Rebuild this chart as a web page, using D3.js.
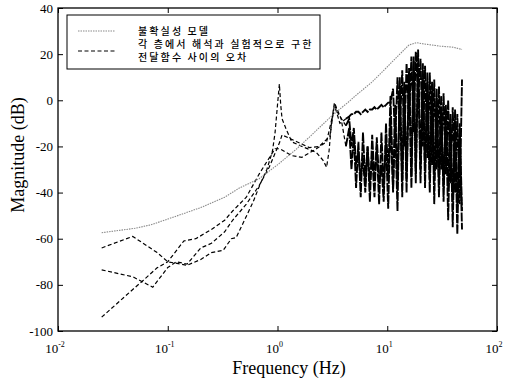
<!DOCTYPE html>
<html>
<head>
<meta charset="utf-8">
<style>
body { margin: 0; background: #fff; }
svg text { font-family: "Liberation Serif", "Times New Roman", serif; fill: #000; }
.tick line { stroke: #000; }
.domain { display: none; }
</style>
</head>
<body>
<svg id="chart" width="518" height="379"></svg>
<script src="https://d3js.org/d3.v7.min.js"></script>
<script>
// uncertainty model (gray dotted)
var modelCurve = [[0.025,-57.4],[0.05,-55.5],[0.07,-54],[0.1,-51.5],[0.2,-46.5],[0.33,-42],[0.45,-38],
  [0.68,-34],[1,-28],[1.5,-21],[2,-15.5],[3,-7.5],[3.66,-4],[4.5,-0.5],[5,1.5],[7.3,8],[10,14.5],
  [13,20],[15.8,24],[18.5,25],[21,24.5],[30,23.5],[40,23],[48,22]];

// error curves, low frequency part
var err1Low = [[0.025,-64],[0.048,-59],[0.08,-66],[0.1,-70],[0.15,-71.5],[0.2,-69],[0.25,-66],[0.32,-65],
  [0.38,-60],[0.42,-59.5],[0.5,-52],[0.6,-44],[0.7,-36],[0.8,-30],[0.9,-22],[0.95,-14],[1.0,-2],[1.04,7],
  [1.07,-2],[1.1,-8],[1.2,-12.6],[1.35,-18],[1.67,-20],[2.26,-22.6],[2.6,-26],[2.8,-29],[2.95,-22],
  [3.1,-10],[3.3,-1],[3.5,-4],[3.8,-8],[4.2,-20]];
var err2Low = [[0.025,-73.5],[0.048,-76.5],[0.073,-81],[0.1,-72.5],[0.12,-70],[0.15,-71],[0.2,-64],
  [0.25,-62],[0.33,-57],[0.39,-52],[0.52,-45],[0.68,-37],[0.84,-29],[0.95,-23],[1.05,-18],[1.1,-15],
  [1.5,-18],[1.95,-20.5],[2.4,-20],[3.0,-15.6],[3.3,-2],[3.6,-6],[4.2,-11]];
var err3Low = [[0.025,-94],[0.048,-82],[0.06,-78],[0.08,-72.6],[0.1,-70],[0.14,-61],[0.18,-60],[0.25,-56],
  [0.33,-52],[0.39,-48],[0.52,-42],[0.68,-32],[0.84,-25],[0.95,-21],[1.05,-21],[1.2,-22.6],[1.35,-24],
  [1.67,-24.7],[2.26,-21],[2.8,-18],[3.2,-6],[3.4,-4],[3.7,-10],[4.2,-8]];

// high frequency part (dense), shared frequencies
var fHigh = [4.5,4.72,4.96,5.2,5.46,5.73,6.01,6.31,6.62,6.95,7.29,7.65,8.03,8.43,8.85,9.28,9.74,10.2,10.7,11.3,
  11.8,12.4,13.0,13.7,14.3,15.0,15.8,16.6,17.4,18.2,19.1,20.1,21.1,22.1,23.2,24.4,25.6,26.8,28.2,29.6,
  31.0,32.6,34.2,35.9,37.6,39.5,41.5,43.5,45.7,48.0];
var err1High = [-12,-30,-15,-38,-18,-42,-14,-36,-20,-44,
  -15,-35,-20,-45,-14,-38,-18,-47,-8,-40,
  -2,-36,4,-42,8,-34,12,-38,17,-32,
  14,-36,10,-30,8,-40,4,-34,0,-42,
  -3,-38,-6,-52,-8,-44,-12,-58,-10,-48];
var err2High = [-8,-20,-12,-28,-22,-34,-25,-40,-20,-36,
  -24,-42,-16,-36,-28,-44,-10,-35,2,-38,
  -10,-48,10,-35,6,-40,14,-33,19,-36,
  22,-30,16,-38,12,-34,8,-45,5,-36,
  2,-44,-2,-38,-6,-55,-4,-46,-15,-56];
var err3High = [-7,-6,-6,-5,-5,-6,-5,-4,-5,-4,
  -4,-3,-4,-3,-2,-3,-2,-1,-1,5,
  -18,10,-12,13,-20,16,-8,19,-14,21,
  2,18,-20,15,-25,12,-28,9,-30,6,
  -30,3,-32,0,-36,-3,-40,-6,-45,9];

var legendLabels = ["불확실성 모델", "각 층에서 해석과 실험적으로 구한", "전달함수 사이의 오차"];
var xTicks = [0.01, 0.1, 1, 10, 100];
var xTickExp = ["-2", "-1", "0", "1", "2"];
var yTicks = [40, 20, 0, -20, -40, -60, -80, -100];

var plotL = 58, plotR = 497, plotT = 8, plotB = 331;
var svg = d3.select("#chart");

var x = d3.scaleLog().domain([0.01, 100]).range([plotL, plotR]);
var y = d3.scaleLinear().domain([-100, 40]).range([plotB, plotT]);

var line = d3.line()
  .x(function(d) { return x(d[0]); })
  .y(function(d) { return y(d[1]); });

// error curves: dashed low part, dense high part
[[err1Low, err1High], [err2Low, err2High], [err3Low, err3High]].forEach(function(s) {
  var low = s[0];
  var high = [low[low.length - 1]].concat(fHigh.map(function(f, i) { return [f, s[1][i]]; }));
  svg.append("path")
    .attr("d", line(low))
    .attr("fill", "none")
    .attr("stroke", "#000")
    .attr("stroke-width", 1.2)
    .attr("stroke-dasharray", "4,2.5");
  svg.append("path")
    .attr("d", line(high))
    .attr("fill", "none")
    .attr("stroke", "#000")
    .attr("stroke-width", 1.9)
    .attr("stroke-dasharray", "9,1.2");
});

// model curve
svg.append("path")
  .attr("d", line(modelCurve))
  .attr("fill", "none")
  .attr("stroke", "#8a8a8a")
  .attr("stroke-width", 1.1)
  .attr("stroke-dasharray", "1.5,1");

// axes box
svg.append("rect")
  .attr("x", plotL).attr("y", plotT)
  .attr("width", plotR - plotL).attr("height", plotB - plotT)
  .attr("fill", "none").attr("stroke", "#000").attr("stroke-width", 1.3);

svg.append("g").attr("transform", "translate(0," + plotB + ")")
  .call(d3.axisBottom(x).tickValues(xTicks).tickSize(-5).tickFormat(""));
svg.append("g").attr("transform", "translate(0," + plotT + ")")
  .call(d3.axisTop(x).tickValues(xTicks).tickSize(-5).tickFormat(""));
svg.append("g").attr("transform", "translate(" + plotL + ",0)")
  .call(d3.axisLeft(y).tickValues(yTicks).tickSize(-5).tickFormat(""));
svg.append("g").attr("transform", "translate(" + plotR + ",0)")
  .call(d3.axisRight(y).tickValues(yTicks).tickSize(-5).tickFormat(""));

// y tick labels
svg.selectAll(".ylab").data(yTicks).enter().append("text")
  .attr("class", "ylab")
  .attr("x", plotL - 5)
  .attr("y", function(d) { return y(d) + 4.5; })
  .attr("text-anchor", "end")
  .style("font-size", "13px")
  .text(function(d) { return d; });

// x tick labels with superscripts
xTicks.forEach(function(t, i) {
  var tx = svg.append("text")
    .attr("x", x(t) - 3)
    .attr("y", plotB + 22)
    .attr("text-anchor", "middle")
    .style("font-size", "13px");
  tx.append("tspan").text("10");
  tx.append("tspan").attr("dy", -6).style("font-size", "8px").text(xTickExp[i]);
});

// axis titles
svg.append("text")
  .attr("x", 289)
  .attr("y", 374)
  .attr("text-anchor", "middle")
  .style("font-size", "18px")
  .text("Frequency (Hz)");
svg.append("text")
  .attr("transform", "translate(24," + 155 + ") rotate(-90)")
  .attr("text-anchor", "middle")
  .style("font-size", "18px")
  .text("Magnitude (dB)");

// legend
var lg = svg.append("g");
lg.append("rect")
  .attr("x", 67).attr("y", 15).attr("width", 253).attr("height", 54)
  .attr("fill", "#fff").attr("stroke", "#000").attr("stroke-width", 1);
lg.append("line")
  .attr("x1", 78).attr("x2", 115).attr("y1", 31).attr("y2", 31)
  .attr("stroke", "#8a8a8a").attr("stroke-width", 1.1).attr("stroke-dasharray", "1.5,1");
lg.append("line")
  .attr("x1", 78).attr("x2", 115).attr("y1", 51).attr("y2", 51)
  .attr("stroke", "#000").attr("stroke-width", 1.2).attr("stroke-dasharray", "4,2.5");
lg.selectAll(".lt").data(legendLabels).enter().append("text")
  .attr("class", "lt")
  .attr("x", 138)
  .attr("y", function(d, i) { return 35 + i * 13; })
  .style("font-family", "'Noto Sans CJK KR', sans-serif")
  .style("font-size", "10px")
  .style("font-weight", "500")
  .style("letter-spacing", "2.1px")
  .text(function(d) { return d; });
</script>
</body>
</html>
